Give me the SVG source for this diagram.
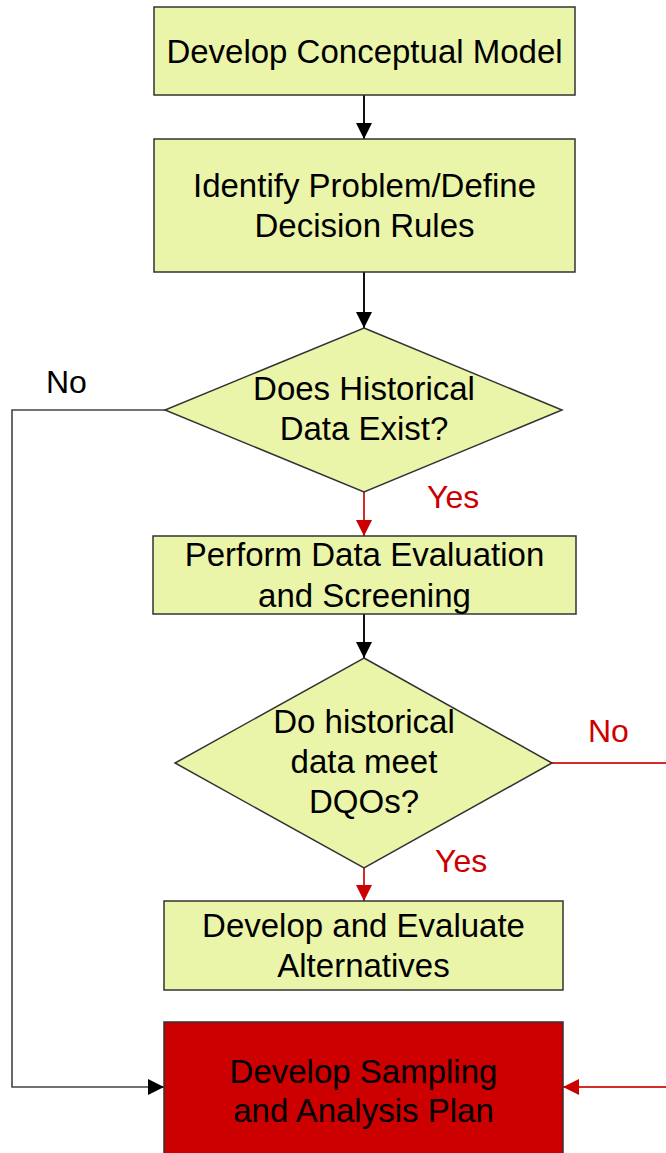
<svg xmlns="http://www.w3.org/2000/svg" width="666" height="1153" viewBox="0 0 666 1153">
<style>
.box{fill:#ebf5a9;stroke:#333;stroke-width:1.5}
.red{fill:#cc0000;stroke:#333;stroke-width:1.5}
.t{font-family:"Liberation Sans",Arial,sans-serif;font-size:33px;fill:#000;text-anchor:middle}
.lbl{font-family:"Liberation Sans",Arial,sans-serif;font-size:32px;fill:#000}
.rl{fill:#cc0000}
.cb{fill:none;stroke:#111;stroke-width:2}
.cg{fill:none;stroke:#444;stroke-width:1.6}
.cr{fill:none;stroke:#d42a2a;stroke-width:2}
</style>
<defs>
<marker id="ab" markerUnits="userSpaceOnUse" markerWidth="18" markerHeight="18" refX="16" refY="9" orient="auto">
<path d="M0,1 L16,9 L0,17 z" fill="#000"/>
</marker>
<marker id="ar" markerUnits="userSpaceOnUse" markerWidth="18" markerHeight="18" refX="16" refY="9" orient="auto">
<path d="M0,1 L16,9 L0,17 z" fill="#cc0000"/>
</marker>
</defs>
<rect width="666" height="1153" fill="#fff"/>
<g id="connectors">
<line class="cb" x1="364" y1="95" x2="364" y2="139" marker-end="url(#ab)"/>
<line class="cb" x1="364" y1="272" x2="364" y2="328" marker-end="url(#ab)"/>
<line class="cr" x1="364" y1="492" x2="364" y2="536" marker-end="url(#ar)"/>
<line class="cb" x1="364" y1="614" x2="364" y2="658" marker-end="url(#ab)"/>
<line class="cr" x1="364" y1="868" x2="364" y2="901" marker-end="url(#ar)"/>
<polyline class="cg" points="165,410 12,410 12,1087 164,1087" marker-end="url(#ab)"/>
<line class="cr" x1="552" y1="763" x2="668" y2="763"/>
<line class="cr" x1="668" y1="1087" x2="563" y2="1087" marker-end="url(#ar)"/>
<text class="lbl" x="46" y="393">No</text>
<text class="lbl rl" x="427" y="508">Yes</text>
<text class="lbl rl" x="588" y="742">No</text>
<text class="lbl rl" x="435" y="872">Yes</text>
</g>
<g id="n1">
<rect class="box" x="154" y="7" width="421" height="88"/>
<text class="t" x="364.5" y="63">Develop Conceptual Model</text>
</g>
<g id="n2">
<rect class="box" x="154" y="139" width="421" height="133"/>
<text class="t" x="364.5" y="197">Identify Problem/Define</text>
<text class="t" x="364.5" y="237">Decision Rules</text>
</g>
<g id="n3">
<polygon class="box" points="364,328 562,410 364,492 165,410"/>
<text class="t" x="364" y="400">Does Historical</text>
<text class="t" x="364" y="440">Data Exist?</text>
</g>
<g id="n4">
<rect class="box" x="153" y="536" width="423" height="78"/>
<text class="t" x="364.5" y="566">Perform Data Evaluation</text>
<text class="t" x="364.5" y="607">and Screening</text>
</g>
<g id="n5">
<polygon class="box" points="364,658 552,763 364,868 175,763"/>
<text class="t" x="364" y="733">Do historical</text>
<text class="t" x="364" y="773">data meet</text>
<text class="t" x="364" y="813">DQOs?</text>
</g>
<g id="n6">
<rect class="box" x="164" y="901" width="399" height="89"/>
<text class="t" x="363.5" y="937">Develop and Evaluate</text>
<text class="t" x="363.5" y="977">Alternatives</text>
</g>
<g id="n7">
<rect class="red" x="164" y="1022" width="399" height="140"/>
<text class="t" x="363.5" y="1083">Develop Sampling</text>
<text class="t" x="363.5" y="1122">and Analysis Plan</text>
</g>
</svg>
